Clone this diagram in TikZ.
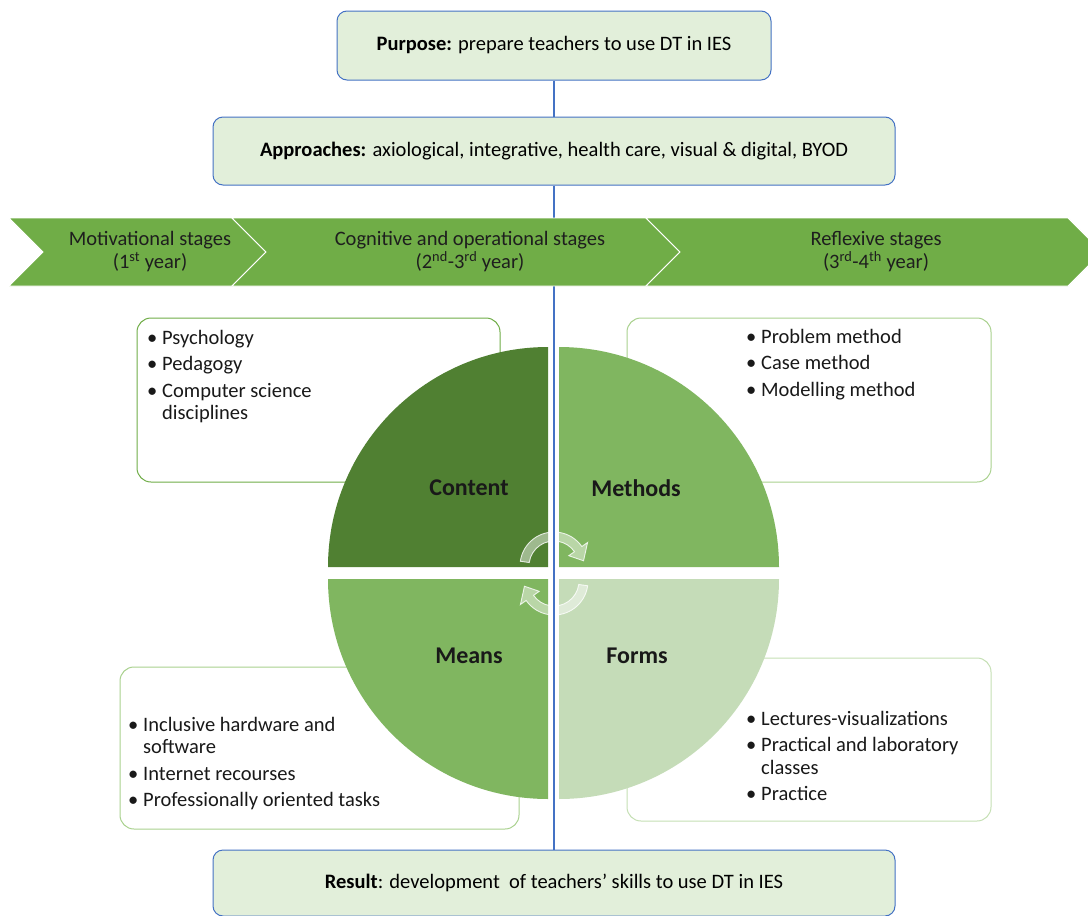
\documentclass[tikz,border=0pt]{standalone}
\usepackage{fontspec}
\setmainfont{Carlito}
\definecolor{boxblue}{RGB}{68,114,196}
\definecolor{boxfill}{RGB}{226,239,218}
\definecolor{chevgreen}{RGB}{112,173,71}
\definecolor{qdark}{RGB}{80,128,50}
\definecolor{qmid}{RGB}{128,182,96}
\definecolor{qlight}{RGB}{197,220,184}
\definecolor{bordA}{RGB}{112,173,71}
\definecolor{bordB}{RGB}{169,209,142}
\definecolor{bordC}{RGB}{197,224,180}
\definecolor{stagetxt}{RGB}{30,30,30}
\newcommand{\bitem}[1]{\makebox[15pt][l]{\textbullet}#1}
\newcommand{\bcont}{\hspace*{15pt}}
\begin{document}
\begin{tikzpicture}[x=1pt,y=-1pt,
  titlebox/.style={draw=boxblue, fill=boxfill, line width=1pt, rounded corners=10pt,
    font=\fontsize{20.5}{24}\selectfont, inner sep=0pt},
  listbox/.style={fill=white, line width=1pt, rounded corners=14pt, inner sep=0pt},
  listtext/.style={anchor=base west, align=left, inner sep=0pt, text=black!90,
    font=\fontsize{20.5}{22.5}\selectfont},
  quadlabel/.style={font=\fontsize{24}{28}\selectfont\bfseries, text=black!90},
  stagetext/.style={align=center, font=\fontsize{20.5}{23}\selectfont, text=stagetxt},
  chev/.style={fill=chevgreen, draw=white, line width=0.8pt},
  turn/.style={fill=white, fill opacity=0.45, draw=white, draw opacity=0.8, line width=0.9pt},
  link/.style={draw=boxblue, line width=1.2pt}
]
\clip (0,0) rectangle (1088,916);
\fill[white] (0,0) rectangle (1088,916);

% list boxes
\node[listbox, draw=bordA, minimum width=363pt, minimum height=164pt] (contentbox) at (318.5,400) {};
\node[listbox, draw=bordB, minimum width=364pt, minimum height=164pt] (methodsbox) at (809,400) {};
\node[listbox, draw=bordB, minimum width=399pt, minimum height=162pt] (meansbox) at (319.5,748) {};
\node[listbox, draw=bordC, minimum width=364pt, minimum height=163pt] (formsbox) at (809,739.5) {};

% (base anchor = baseline of the last line)
\node[listtext] (contenttext) at (147,419.5) {\bitem{Psychology}\\[4pt]\bitem{Pedagogy}\\[4pt]\bitem{Computer science}\\\bcont disciplines};
\node[listtext] (methodstext) at (746,396) {\bitem{Problem method}\\[4pt]\bitem{Case method}\\[4pt]\bitem{Modelling method}};
\node[listtext] (meanstext) at (128,806.5) {\bitem{Inclusive hardware and}\\\bcont software\\[4pt]\bitem{Internet recourses}\\[4pt]\bitem{Professionally oriented tasks}};
\node[listtext] (formstext) at (746,800.5) {\bitem{Lectures-visualizations}\\[4pt]\bitem{Practical and laboratory}\\\bcont classes\\[4pt]\bitem{Practice}};

% quadrants
\fill[qdark] (548,567) -- ++(-220,0) arc[start angle=180,end angle=270,radius=220] -- cycle;
\fill[qmid] (559,567) -- ++(0,-220) arc[start angle=270,end angle=360,radius=220] -- cycle;
\fill[qmid] (548,579) -- ++(-220,0) arc[start angle=180,end angle=90,radius=220] -- cycle;
\fill[qlight] (559,579) -- ++(220,0) arc[start angle=0,end angle=90,radius=220] -- cycle;

% cycle arrows
\begin{scope}[shift={(554,566)}]
\path[turn] (188:34) arc[start angle=188,end angle=325,radius=34] -- (325:41) -- (350:30) -- (325:18) -- (325:25) arc[start angle=325,end angle=188,radius=25] -- cycle;
\end{scope}
\begin{scope}[shift={(554,581)}]
\path[turn] (8:34) arc[start angle=8,end angle=145,radius=34] -- (145:41) -- (170:30) -- (145:18) -- (145:25) arc[start angle=145,end angle=8,radius=25] -- cycle;
\end{scope}

% title boxes
\node[titlebox, minimum width=434pt, minimum height=69pt] (purpose) at (554,45.5) {\textbf{Purpose:} prepare teachers to use DT in IES};
\node[titlebox, minimum width=682pt, minimum height=68pt] (approach) at (554,151) {\textbf{Approaches:} axiological, integrative, health care, visual \& digital, BYOD};
\node[titlebox, minimum width=682pt, minimum height=66pt] (result) at (554,883) {\textbf{Result}: development\ \ of teachers’ skills to use DT in IES};

% connectors
\draw[link] (purpose.south) -- (approach.north);
\draw[link] (approach.south) -- (result.north);

% chevrons
\path[chev] (9,218) -- (232,218) -- (266,252) -- (232,286) -- (9,286) -- (43,252) -- cycle;
\path[chev] (232,218) -- (646,218) -- (680,252) -- (646,286) -- (232,286) -- (266,252) -- cycle;
\path[chev] (646,218) -- (1068,218) -- (1102,252) -- (1068,286) -- (646,286) -- (680,252) -- cycle;
\node[stagetext] (stage1) at (150,252) {Motivational stages\\(1\textsuperscript{st} year)};
\node[stagetext] (stage2) at (470,252) {Cognitive and operational stages\\(2\textsuperscript{nd}-3\textsuperscript{rd} year)};
\node[stagetext] (stage3) at (876,252) {Reflexive stages\\(3\textsuperscript{rd}-4\textsuperscript{th} year)};

% quadrant labels
\node[quadlabel] (content) at (469,488) {Content};
\node[quadlabel] (methods) at (636,488) {Methods};
\node[quadlabel] (means) at (469,656) {Means};
\node[quadlabel] (forms) at (637,656) {Forms};
\end{tikzpicture}
\end{document}
